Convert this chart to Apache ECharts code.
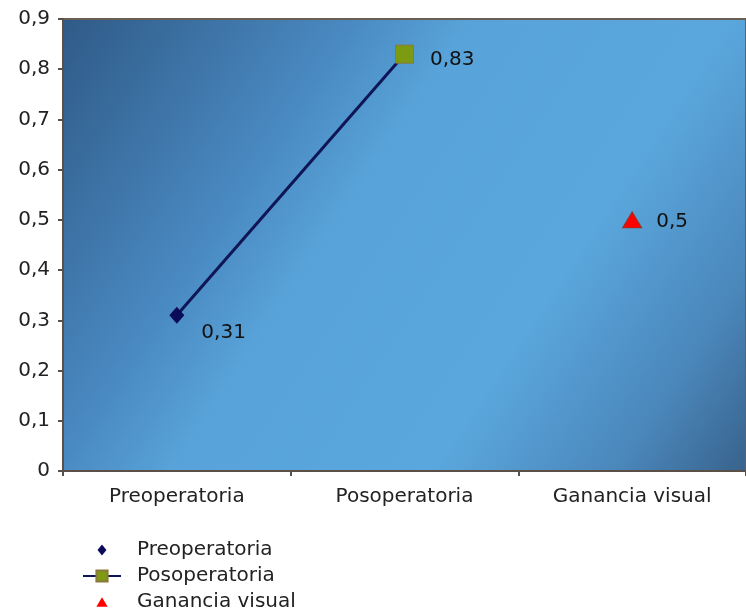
<!DOCTYPE html>
<html>
<head>
<meta charset="utf-8">
<script src="https://cdn.jsdelivr.net/npm/echarts@6/dist/echarts.min.js"></script>
<style>
  html, body { margin: 0; padding: 0; background: #fff; }
  #chart { width: 746px; height: 614px; }
</style>
</head>
<body>
<div id="chart"></div>
<script>
// datos
var categorias = ['Preoperatoria', 'Posoperatoria', 'Ganancia visual'];
var preoperatoria = [0.31, '-', '-'];
var posoperatoria = [0.31, 0.83, '-'];   // linea une pre y pos
var ganancia = ['-', '-', 0.5];
var yTicks = [0, 0.1, 0.2, 0.3, 0.4, 0.5, 0.6, 0.7, 0.8, 0.9];

var fuente = 'DejaVu Sans';
var tam = 20;
function coma(v) {
    return String(+(+v).toFixed(2)).replace('.', ',');
}

var myChart = echarts.init(document.getElementById('chart'));

var posData = posoperatoria.map(function (v, i) {
    if (i === 0) return { value: v, symbol: 'none', label: { show: false } };
    return v;
});

var option = {
    animation: false,
    textStyle: { fontFamily: fuente },
    grid: {
        left: 63,
        top: 19,
        width: 690,
        height: 452,
        show: true,
        borderColor: '#6b5e52',
        borderWidth: 2,
        backgroundColor: new echarts.graphic.LinearGradient(0, 0, 1, 1, [
            { offset: 0, color: '#2f5a87' },
            { offset: 0.3, color: '#4a8ac2' },
            { offset: 0.42, color: '#58a4da' },
            { offset: 0.68, color: '#5aa7dd' },
            { offset: 0.87, color: '#4a86ba' },
            { offset: 1, color: '#38628b' }
        ])
    },
    legend: {
        orient: 'vertical',
        left: 82,
        top: 540,
        height: 90,
        padding: 0,
        itemWidth: 38,
        itemHeight: 14,
        itemGap: 6,
        symbolKeepAspect: true,
        data: [
            {
                name: 'Preoperatoria',
                icon: 'path://M0,-1L0.8,0L0,1L-0.8,0ZM0,-1.25L0,-1.25M0,1.25L0,1.25',
                itemStyle: { color: '#0b0b5c', borderWidth: 0, opacity: 1 }
            },
            { name: 'Posoperatoria' },
            {
                name: 'Ganancia visual',
                icon: 'path://M0,-0.9L1.05,0.9L-1.05,0.9ZM0,-1.3L0,-1.3M0,1.3L0,1.3',
                itemStyle: { color: '#ff0000', borderWidth: 0, opacity: 1 }
            }
        ],
        textStyle: { fontFamily: fuente, fontSize: tam, color: '#222', padding: [0, 0, 0, 11] }
    },
    xAxis: {
        type: 'category',
        data: categorias,
        boundaryGap: true,
        axisLine: { lineStyle: { color: '#5a5048', width: 2 } },
        axisTick: { show: true, length: 5, lineStyle: { color: '#5a5048', width: 2 } },
        axisLabel: { color: '#222', fontSize: tam, fontFamily: fuente, margin: 16, interval: 0 },
        splitLine: { show: false }
    },
    yAxis: {
        type: 'value',
        min: yTicks[0],
        max: yTicks[yTicks.length - 1],
        interval: 0.1,
        axisLine: { show: true, lineStyle: { color: '#5a5048', width: 2 } },
        axisTick: { show: true, length: 5, lineStyle: { color: '#5a5048', width: 2 } },
        axisLabel: { color: '#222', fontSize: tam, fontFamily: fuente, margin: 13, formatter: coma },
        splitLine: { show: false }
    },
    series: [
        {
            name: 'Preoperatoria',
            type: 'scatter',
            data: preoperatoria,
            symbol: 'diamond',
            symbolSize: [15, 17],
            itemStyle: { color: '#0b0b5c', opacity: 1 },
            label: {
                show: true, position: 'right', offset: [12, 17],
                color: '#111', fontSize: tam, fontFamily: fuente, formatter: function (p) { return coma(p.value); }
            },
            z: 4
        },
        {
            name: 'Posoperatoria',
            type: 'line',
            data: posData,
            symbol: 'rect',
            symbolSize: 18,
            showAllSymbol: true,
            lineStyle: { color: '#0f1555', width: 3 },
            itemStyle: { color: '#7d9b12', borderColor: '#8a7a3a', borderWidth: 1 },
            label: {
                show: true, position: 'right', offset: [11, 6],
                color: '#111', fontSize: tam, fontFamily: fuente, formatter: function (p) { return coma(p.value); }
            },
            z: 3
        },
        {
            name: 'Ganancia visual',
            type: 'scatter',
            data: ganancia,
            symbol: 'triangle',
            symbolSize: [19, 16],
            itemStyle: { color: '#ff0000', borderColor: '#8a3a2a', borderWidth: 1, opacity: 1 },
            label: {
                show: true, position: 'right', offset: [9, 2],
                color: '#111', fontSize: tam, fontFamily: fuente, formatter: function (p) { return coma(p.value); }
            },
            z: 4
        }
    ]
};

option && myChart.setOption(option);
</script>
</body>
</html>
